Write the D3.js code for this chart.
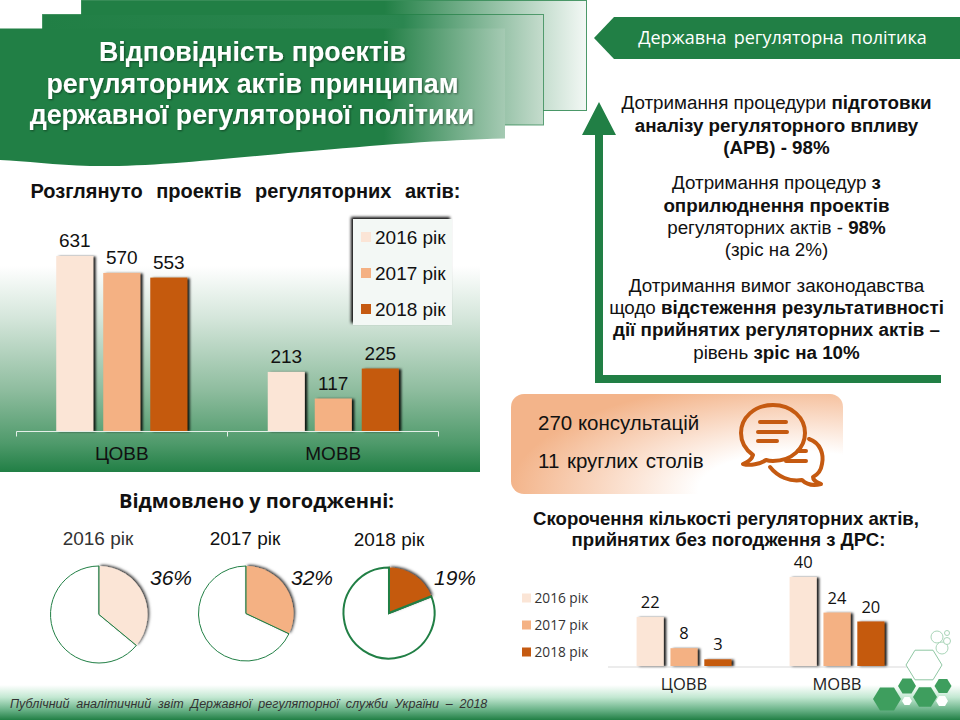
<!DOCTYPE html>
<html><head><meta charset="utf-8">
<script src="https://cdnjs.cloudflare.com/ajax/libs/d3/7.8.5/d3.min.js"></script>
<style>html,body{margin:0;padding:0;background:#fff}svg{display:block}text{font-family:"Liberation Sans",Arial,sans-serif}</style>
</head><body><svg id="c" width="960" height="720" viewBox="0 0 960 720"></svg>
<script>
const years = ["2016 рік","2017 рік","2018 рік"];
const categories = ["ЦОВВ","МОВВ"];
const reviewed2016 = [631,213];
const reviewed2017 = [570,117];
const reviewed2018 = [553,225];
const refused = [36,32,19];
const cut2016 = [22,40];
const cut2017 = [8,24];
const cut2018 = [3,20];
const colors = ["#fbe5d6","#f4b183","#c55a11"];
const GREEN = "#217f45";

const svg = d3.select("#c");
const defs = svg.append("defs");
function grad(id, stops, v){
  const g = defs.append("linearGradient").attr("id",id).attr("x1",0).attr("y1",0).attr("x2",v?0:1).attr("y2",v?1:0);
  stops.forEach(s=>g.append("stop").attr("offset",s[0]).attr("stop-color",s[1]));
}
grad("bn",[[0,GREEN],[0.76,GREEN],[1,"#a5cab3"]]);
grad("bn2",[[0,GREEN],[0.72,"#2b8650"],[1,"#c5dccd"]]);
grad("bn3",[[0,GREEN],[0.6,GREEN],[1,"#f3f8f5"]]);
grad("field",[[0,"#ffffff"],[0.25,"#d5e6db"],[0.6,"#8fbd9f"],[0.86,"#4f9a6b"],[1,"#217f45"]],true);
grad("foot",[[0,"#ffffff"],[0.35,"#c3e8d2"],[0.7,"#6cb48a"],[1,"#217f45"]],true);
const rg=defs.append("radialGradient").attr("id","cons").attr("gradientUnits","userSpaceOnUse").attr("cx",0).attr("cy",0).attr("r",1).attr("gradientTransform","translate(800,490) scale(290,110)");
[[0,"#ffffff"],[0.35,"#ffffff"],[0.6,"#fbe2d2"],[1,"#f3b48a"]].forEach(s=>rg.append("stop").attr("offset",s[0]).attr("stop-color",s[1]));
const sh=(id,dx,dy,b,o)=>{const f=defs.append("filter").attr("id",id).attr("x","-30%").attr("y","-30%").attr("width","170%").attr("height","170%");
  f.append("feDropShadow").attr("dx",dx).attr("dy",dy).attr("stdDeviation",b).attr("flood-color","#000").attr("flood-opacity",o);};
sh("barS",2.5,0.5,1.3,0.9); sh("pieS",1.5,-1,1.6,0.85); sh("legS",-2,-2,1.6,0.95); sh("txtS",1,1,0.8,0.45);

// banners
svg.append("rect").attr("x",81.5).attr("y",0.5).attr("width",505).attr("height",110).attr("fill","url(#bn3)").attr("stroke",GREEN).attr("stroke-opacity",.8);
svg.append("rect").attr("x",42.5).attr("y",14.5).attr("width",501).attr("height",110.5).attr("fill","url(#bn2)").attr("stroke",GREEN).attr("stroke-opacity",.7);
svg.append("path").attr("d","M0,28.5 H505 V138.5 C440,140 380,145 300,152 C210,160 150,167 90,166 C55,165 25,161 0,160 Z").attr("fill","url(#bn)");
const title = svg.append("g").attr("text-anchor","middle").attr("fill","#fff").attr("font-weight","bold").attr("font-size",26.8).attr("filter","url(#txtS)");
[["Відповідність проектів",252.5,61],["регуляторних актів принципам",252.5,93],["державної регуляторної політики",252,124]].forEach(d=>title.append("text").attr("x",d[1]).attr("y",d[2]).text(d[0]));

// ribbon
svg.append("path").attr("d","M594,38 L614,17 H960 V59 H614 Z").attr("fill",GREEN);
svg.append("text").attr("x",782.5).attr("y",44).attr("text-anchor","middle").attr("fill","#fff").attr("font-size",18).attr("style","font-family:'Open Sans';word-spacing:2.5px").text("Державна регуляторна політика");

// arrow
svg.append("path").attr("d","M599,102 L616,135 H603 V375 H941 V383 H595 V135 H582 Z").attr("fill",GREEN);

// paragraphs
const para = [
 [109,[["Дотримання процедури ",0],["підготовки",1]]],
 [132,[["аналізу регуляторного впливу",1]]],
 [154,[["(АРВ) - 98%",1]]],
 [189,[["Дотримання процедур ",0],["з",1]]],
 [212,[["оприлюднення проектів",1]]],
 [234,[["регуляторних актів - ",0],["98%",1]]],
 [256,[["(зріс на 2%)",0]]],
 [292,[["Дотримання вимог законодавства",0]]],
 [314,[["щодо ",0],["відстеження результативності",1]]],
 [336,[["дії прийнятих регуляторних актів –",1]]],
 [359,[["рівень ",0],["зріс на 10%",1]]]
];
para.forEach(p=>{const t=svg.append("text").attr("x",776.5).attr("y",p[0]).attr("text-anchor","middle").attr("font-size",18.8).attr("fill","#111");
  p[1].forEach(s=>t.append("tspan").attr("font-weight",s[1]?"bold":"normal").text(s[0]));});

// footer
svg.append("rect").attr("x",0).attr("y",685).attr("width",960).attr("height",35).attr("fill","url(#foot)");
svg.append("text").attr("x",10).attr("y",708).attr("font-size",12.5).attr("font-style","italic").attr("fill","#333").attr("word-spacing",3.3).text("Публічний аналітичний звіт Державної регуляторної служби України – 2018");

// chart 1
svg.append("text").attr("x",245.5).attr("y",198).attr("text-anchor","middle").attr("font-size",20).attr("font-weight","bold").attr("fill","#111").attr("word-spacing",8).text("Розглянуто проектів регуляторних актів:");
svg.append("rect").attr("x",0).attr("y",266).attr("width",480).attr("height",206).attr("fill","url(#field)");
function groupedBars(opts){
  const x0=d3.scaleBand().domain(categories).range(opts.xr);
  const x1=d3.scaleBand().domain(years).range([0,x0.bandwidth()]).paddingInner(opts.pi).paddingOuter(opts.po);
  const y=d3.scaleLinear().domain(opts.yd).range(opts.yr);
  const g=svg.append("g");
  opts.series.forEach((vals,i)=>{
    categories.forEach((c,j)=>{
      const bx=x0(c)+x1(years[i]);
      g.append("rect").attr("x",bx).attr("y",y(vals[j])).attr("width",x1.bandwidth()).attr("height",y(0)-y(vals[j])).attr("fill",colors[i]).attr("filter","url(#barS)");
      g.append("text").attr("x",bx+x1.bandwidth()/2).attr("y",y(vals[j])-opts.gap).attr("text-anchor","middle").attr("font-size",opts.fs).attr("fill","#111").attr("style",opts.font?`font-family:${opts.font}`:null).text(vals[j]);
    });
  });
  return {x0,y};
}
const c1=groupedBars({xr:[16,439],pi:0.213,po:0.856,yd:[0,631],yr:[431,256],series:[reviewed2016,reviewed2017,reviewed2018],gap:9,fs:19});
const ax1=svg.append("g").attr("transform","translate(0,431.5)").call(d3.axisBottom(c1.x0).tickSize(0).tickPadding(15));
ax1.select(".domain").attr("stroke","#e4efe8").attr("d","M16.5,5V0H227.5V5M227.5,0H438.5V5");
ax1.selectAll("text").attr("font-size",19).attr("fill","#111").attr("style","font-family:'Liberation Sans'");
// legend 1
svg.append("rect").attr("x",353).attr("y",219).attr("width",99).attr("height",106).attr("fill","#f3f8f5").attr("filter","url(#legS)");
const legY1=d3.scalePoint().domain(years).range([237,309]);
years.forEach((l,i)=>{svg.append("rect").attr("x",361).attr("y",legY1(l)-5).attr("width",10).attr("height",10).attr("fill",colors[i]);
  svg.append("text").attr("x",375).attr("y",legY1(l)+6.5).attr("font-size",19).attr("fill","#111").text(l);});

// pies
svg.append("text").attr("x",256.5).attr("y",508).attr("text-anchor","middle").attr("font-size",20).attr("font-weight","bold").attr("style","font-family:'Open Sans'").attr("fill","#111").text("Відмовлено у погодженні:");
const pieLayout=[{cx:99,cy:614.5,r:48.5,sw:1,ty:545,tx:98,lx:171,ly:585,tc:"#333"},{cx:246,cy:613.5,r:47.5,sw:1,ty:545,tx:245,lx:312,ly:585,tc:"#111"},{cx:389,cy:613,r:45.5,sw:2,ty:546,tx:389,lx:455,ly:585,tc:"#111"}];
const pie=d3.pie().sort(null);
refused.forEach((v,i)=>{
  const L=pieLayout[i], g=svg.append("g").attr("transform",`translate(${L.cx},${L.cy})`);
  const arcs=pie([v,100-v]), arc=d3.arc().innerRadius(0).outerRadius(L.r);
  g.append("path").attr("d",arc(arcs[1])).attr("fill","#fff").attr("stroke",GREEN).attr("stroke-width",L.sw);
  g.append("path").attr("d",arc(arcs[0])).attr("fill",colors[i]).attr("filter","url(#pieS)");
  g.append("path").attr("fill","none").attr("stroke",GREEN).attr("stroke-width",L.sw).attr("d",`M0,${-L.r} L0,0 L${Math.sin(arcs[0].endAngle)*L.r},${-Math.cos(arcs[0].endAngle)*L.r}`);
  svg.append("text").attr("x",L.tx).attr("y",L.ty).attr("text-anchor","middle").attr("font-size",19).attr("fill",L.tc).text(years[i]);
  svg.append("text").attr("x",L.lx).attr("y",L.ly).attr("text-anchor","middle").attr("font-size",21).attr("font-style","italic").attr("fill","#111").text(v+"%");
});

// consultation box
svg.append("rect").attr("x",511).attr("y",394).attr("width",332).attr("height",100).attr("rx",13).attr("fill","url(#cons)");
svg.append("text").attr("x",538).attr("y",430).attr("font-size",20.5).attr("fill","#111").text("270 консультацій");
svg.append("text").attr("x",538).attr("y",468).attr("font-size",20.5).attr("word-spacing",2).attr("fill","#111").text("11 круглих столів");
const ico=svg.append("g").attr("fill","none").attr("stroke","#c55a11").attr("stroke-width",4).attr("stroke-linecap","round").attr("stroke-linejoin","round");
ico.append("path").attr("d","M773,405 C754,405 741,418 741,433 C741,443 746,450 753,455 C752,459 748,462 743,464 C750,466 760,464 766,460 C769,461 771,461 773,461 C792,461 805,448 805,433 C805,418 792,405 773,405 Z");
ico.append("path").attr("d","M760,422 H786 M758,432 H787 M758,441 H777");
ico.append("path").attr("d","M809,439 C821,443 824,455 822,464 C821,471 817,475 813,477 C813,481 817,482 821,484 C813,486 806,484 802,480 C790,482 778,477 770,467");
ico.append("path").attr("d","M798,451 H806 M786,461 H806");

// chart 3
svg.append("text").attr("x",726).attr("y",524.5).attr("text-anchor","middle").attr("font-size",18.6).attr("font-weight","bold").attr("fill","#111").text("Скорочення кількості регуляторних актів,");
svg.append("text").attr("x",728.5).attr("y",546).attr("text-anchor","middle").attr("font-size",18.6).attr("font-weight","bold").attr("fill","#111").text("прийнятих без погодження з ДРС:");
const c3=groupedBars({xr:[607.5,913.5],pi:0.2,po:0.86,yd:[0,40],yr:[666,577],series:[cut2016,cut2017,cut2018],gap:9,fs:16.5,font:"'Open Sans'"});
const ax3=svg.append("g").attr("transform","translate(0,666.5)").call(d3.axisBottom(c3.x0).tickSize(0).tickPadding(12));
ax3.select(".domain").attr("stroke","#d9d9d9");
ax3.selectAll("text").attr("font-size",16.5).attr("fill","#222").attr("style","font-family:'Open Sans'");
const legY3=d3.scalePoint().domain(years).range([598,652]);
years.forEach((l,i)=>{svg.append("rect").attr("x",522).attr("y",legY3(l)-4.5).attr("width",9).attr("height",9).attr("fill",colors[i]);
  svg.append("text").attr("x",534.5).attr("y",legY3(l)+4.5).attr("font-size",13.7).attr("fill","#333").attr("style","font-family:'Open Sans'").text(l);});

// hexagon decoration
const hex=(cx,cy,r)=>d3.range(6).map(k=>[cx+r*Math.cos(k*Math.PI/3),cy+r*Math.sin(k*Math.PI/3)*0.95]);
const hexPath=(cx,cy,r)=>"M"+hex(cx,cy,r).join("L")+"Z";
svg.append("path").attr("d",hexPath(924,665,18)).attr("fill","#fff").attr("stroke","#8fc7a3").attr("stroke-width",1);
[[887,699,14],[907,686,9],[925,697,12],[943,686,8.5]].forEach(d=>svg.append("path").attr("d",hexPath(d[0],d[1],d[2])).attr("fill","#3e9e5e"));
[[907,701,5],[942,701,6]].forEach(d=>svg.append("path").attr("d",hexPath(d[0],d[1],d[2])).attr("fill","#fff"));
[[937,637,6],[942,648,6],[947,641,3.5],[947,633,2.5]].forEach(d=>svg.append("circle").attr("cx",d[0]).attr("cy",d[1]).attr("r",d[2]).attr("fill","#fff").attr("stroke","#a9d5b8").attr("stroke-width",1));
</script></body></html>
